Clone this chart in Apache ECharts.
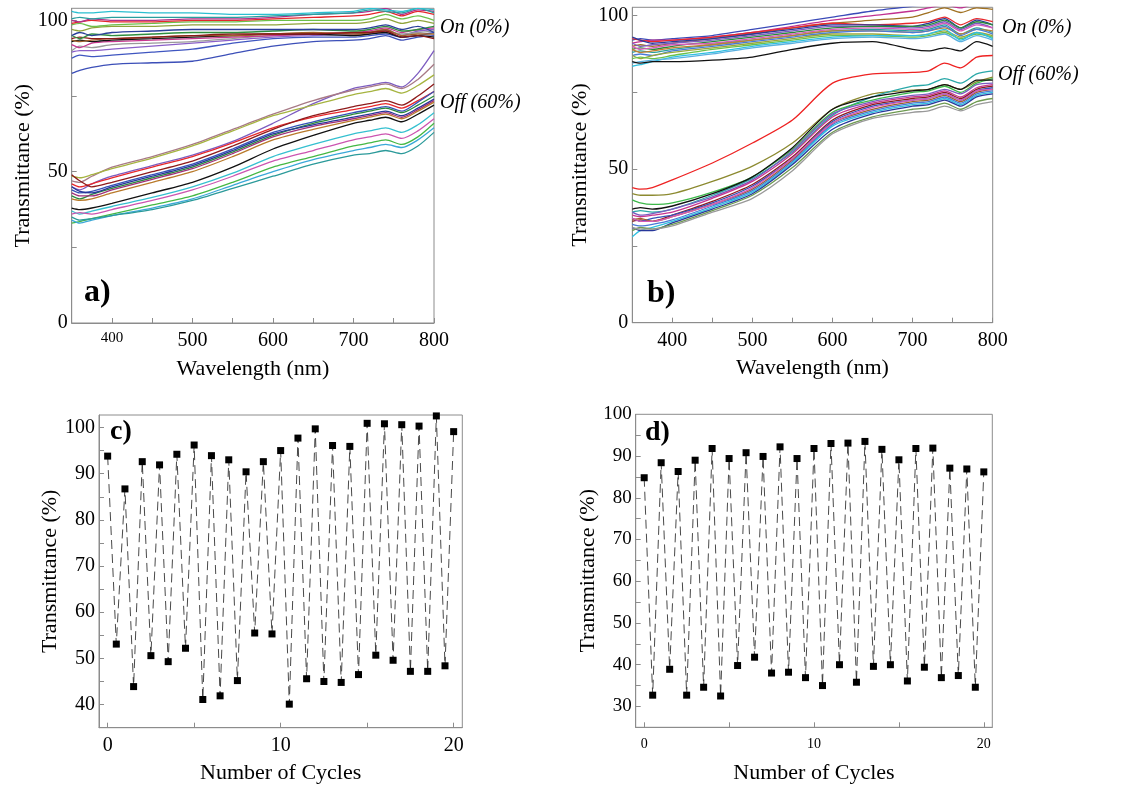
<!DOCTYPE html>
<html><head><meta charset="utf-8">
<script src="https://cdn.jsdelivr.net/npm/echarts@6/dist/echarts.min.js"></script>
<style>html,body{margin:0;padding:0;background:#fff}#c{width:1130px;height:787px}</style>
</head><body><div id="c"></div>
<script>
// ---------- data ----------
const WAVELENGTH = [350,360,375,400,450,500,550,600,650,700,720,740,760,780,800];

// panel a, "on" state spectra
const A_ON = [
 [82.5,83.5,84.5,85.5,86,86.5,89,91.5,93,93.5,94,95,93.5,94.5,95],
 [87.5,88.5,88,88.5,89.5,90.5,92.5,94,94.5,94.5,95,95.5,94.5,95,96],
 [89.5,90,90,90.5,91.5,92.5,93.5,94.5,95,95.5,96,97,95,96.5,97],
 [90,91.5,91,92,92.5,93,94,95,95.5,95,95.5,96.5,95.5,96,96.5],
 [92,91,92.5,93,93.5,94,94.5,95,95.5,96,96.5,97.5,96,97,97.5],
 [93,93.5,93,93.5,94,94.5,95,95.5,95.5,95,95.5,96,94.5,95,94.5],
 [93.5,93,93.5,94,94.5,95,95,95.5,96,95.5,96,97,95,95.5,95.5],
 [94,94.5,94,94,94.5,95,95.5,95.5,95.5,96,96,96.5,94.5,95,94],
 [95,94,95.5,95,95.5,96,96,96.5,97,96.5,97,98,96.5,97,98],
 [95,96,95,96,96.5,97,97,97,97,97,97.5,98.5,97,98,96],
 [97,96.5,97.5,98,98,98.5,98.5,98.5,99,99,99.5,100.5,99,100,99],
 [98.5,99,98,98.5,99,99.5,99.5,100,100,100,100.5,102,100.5,101.5,100],
 [99,99.5,100,99.5,99.5,100,100,100.5,101,101.5,102,103,101.5,103,102],
 [100,99.5,100.5,100,100,100.5,100.5,101,102,102.5,103,104,102,103.5,103],
 [100.5,101,100.5,101,101,101,101,101.5,102,102.5,103.5,103,102.5,104,102.5],
 [103,102.5,102.5,103,102.5,102.5,102,102,102.5,103,104,103.5,103,104,103.5]
];
// panel a, "off" state spectra
const A_OFF = [
 [45,44,46,48.5,52,55.5,60,66,72.5,77.5,78.5,79.5,78,82.5,90],
 [47,46.5,48.5,51.5,55,59,64,69,73.5,77,78,79,77.5,80.5,85.5],
 [48.5,48,49,51,54.5,58.5,63.5,68.5,72,75.5,76.5,77.5,76,78.5,82],
 [46,45,46,48,51.5,55,59.5,64.5,68,70.5,71.5,72.5,71,73.5,76.5],
 [49,47,45,46.5,50,53.5,58.5,64,68.5,71.5,72.5,73.5,72,75,79],
 [44,43,43.5,45.5,49,52.5,57.5,63,66.5,69.5,70.5,71.5,70,73,76.5],
 [42,41,42.5,44.5,48,51.5,56.5,62,66,69,70,71,69.5,72,75],
 [45,43.5,43,45,48.5,52,57,62.5,65.5,68,69,70,68.5,71,74],
 [43,42,42,44,47.5,51,56,61.5,65,67.5,68.5,69.5,68,70.5,73.5],
 [41,40.5,41,43,46.5,50,55,60.5,64,67,68,69,67.5,70,73],
 [38,37.5,38,39.5,43,46.5,51.5,57.5,62,66,67,68,66.5,69,72],
 [37,36,37,38.5,41.5,45,49.5,55,59,62.5,63.5,64.5,63,65.5,69.5],
 [36,36.5,36,37.5,40.5,44,48.5,53.5,57,60.5,61.5,62.5,61,63.5,67.5],
 [33,33.5,34.5,36,39,42,46.5,51.5,55,58.5,59.5,60.5,59,61.5,66],
 [34,33,34,35.5,38,41,45.5,50,54,57,58,59,58,60.5,64.5],
 [35,34,34.5,35.5,37.5,40.5,44.5,48.5,52.5,55.5,56,57,56,58.5,63]
];
// panel b, "on" state spectra
const B_ON = [
 [92,92.5,92,92.5,93.5,95.5,97.5,99.5,101.5,103,103.5,104,104,104,104],
 [91,91.5,92,92,93,94.5,96.5,98.5,100,101.5,102.5,103.5,102.5,104,103.5],
 [90,90.5,90,91,92.5,94,96,97.5,98.5,99.5,101,102.5,101,102.5,102],
 [92.5,92,91.5,92,93,94.5,96,97.5,97,97.5,98,99.5,97,99,98],
 [93,92,91,91.5,92.5,94,95.5,97,97,96.5,97.5,99,96,98.5,97],
 [91,90,90.5,91,92,93.5,95,96.5,96.5,96,96.5,98,95.5,97.5,96],
 [89,89.5,89,90,91.5,93,94.5,96,96.5,96.5,97,98.5,96,98,97],
 [90,89,89.5,90.5,91,92.5,94,95.5,96,95.5,96,97.5,95,97,96],
 [88,88.5,88,89,90.5,92,93.5,95,95.5,95,95.5,97,94,96,94.5],
 [89,88,88.5,89.5,90.5,92,93.5,95,95,94.5,95,96,94,95.5,95],
 [87,87.5,87,88.5,90,91.5,93,94.5,95,94.5,95,96.5,93.5,95.5,94],
 [87,86,87,88,89.5,91,92.5,94,94,93.5,94,95,93,94.5,93.5],
 [86,86.5,86,87,89,90.5,92,93.5,93.5,93,93.5,94.5,92.5,94,93],
 [83.5,84,85,86.5,88,90,91.5,93,93.5,93.5,94,95.5,92,94.5,92.5],
 [84.5,85,85.5,86,87.5,89.5,91,92.5,93,92.5,93,94,91.5,93.5,92],
 [85,84.5,85,85,85.5,86.5,89,91,91.5,89,88.5,89.5,88.5,91.5,90]
];
// panel b, "off" state spectra
const B_OFF = [
 [44,43.5,44,46.5,52,58.5,66,78,81,81.5,82,84.5,83,86.5,87],
 [42,41.5,41.5,42,46,51,58.5,69.5,74.5,75.7,76,77.5,76,78.5,80],
 [36,36.5,36,37,41.5,47,55.5,67.5,73.5,77,77.5,79.5,78,81,82],
 [40,39,38.5,39,42.5,47.5,56.5,68.5,72.5,75,75.5,77,75,78,79.5],
 [37,37.5,37,38,42,47.5,57,69.5,73.5,75.5,76,77.5,76,79,79],
 [36,35,35.5,37,41,46.5,56,68,72,74,74.5,76,74.5,77.5,78],
 [35,34.5,35,36,40.5,46,55,67,71.5,73.5,74,75.5,73.5,76.5,77.5],
 [33,33.5,33,35,39.5,45,54,66,71,73,73.5,75,73,76,77],
 [34,33,34,35,39,44.5,53.5,65.5,70.5,72.5,73,74.5,72.5,75.5,76.5],
 [33.5,34,33,34.5,38.5,43.5,53,65,69.5,72,72.5,74,72,75,76],
 [32,31.5,32,33.5,38,43,52.5,64.5,69,71.5,72,73.5,71.5,74.5,75.5],
 [34,33,33,34.5,38.5,44,53.5,65,70,72.5,73,74.5,72.5,75.5,76],
 [28,30,31,33,37.5,42.5,52,64,68.5,71,71.5,73,71,74,75],
 [31,30,30,32.5,37,42,51.5,63,68,70.5,71,72.5,70.5,73.5,74.5],
 [30,31,30.5,32,36.5,41.5,50.5,62,67,69.5,70,71.5,69.5,72,73],
 [31,30.5,30.5,31.5,36,40.5,49.5,61.5,66.5,68.5,69,70.5,69,71,72]
];

const CYCLES = [0,0.5,1,1.5,2,2.5,3,3.5,4,4.5,5,5.5,6,6.5,7,7.5,8,8.5,9,9.5,10,10.5,11,11.5,12,12.5,13,13.5,14,14.5,15,15.5,16,16.5,17,17.5,18,18.5,19,19.5,20];
const C_TRANS = [93.8,53.1,86.7,43.9,92.6,50.6,91.9,49.3,94.2,52.2,96.2,41.1,93.9,41.9,93.0,45.2,90.4,55.5,92.6,55.3,95.0,40.1,97.7,45.6,99.7,45.0,96.1,44.8,95.9,46.5,100.9,50.7,100.8,49.6,100.6,47.2,100.3,47.2,102.5,48.4,99.1];
const D_TRANS = [84.8,32.7,88.4,38.9,86.3,32.7,89.0,34.6,91.8,32.5,89.4,39.8,90.8,41.8,89.9,38.0,92.2,38.2,89.4,36.9,91.8,35.0,93.0,40.0,93.1,35.8,93.5,39.6,91.6,40.0,89.1,36.1,91.8,39.4,91.9,36.9,87.1,37.4,86.9,34.6,86.2];

const WL_LABELS = [400,500,600,700,800];
const WL_TICKS = [400,450,500,550,600,650,700,750,800];
const T_LABELS_AB = [0,50,100];
const T_TICKS_AB = [25,50,75,100];
const CYC_LABELS = [0,10,20];
const CYC_TICKS = [0,5,10,15,20];
const C_LABELS = [40,50,60,70,80,90,100];
const C_TICKS = [40,45,50,55,60,65,70,75,80,85,90,95,100];
const D_LABELS = [30,40,50,60,70,80,90,100];
const D_TICKS = [30,35,40,45,50,55,60,65,70,75,80,85,90,95];

const COL_A_ON = ['#3c4fb8','#3f56c0','#8a5fc8','#9a9a9a','#c8358f','#111111','#a0612a','#8b1a1a','#2f8f3f','#2a3f9a','#8fa33a','#6cc04a','#e5262b','#b0308a','#2a9e9e','#2bbfd0'];
const COL_A_OFF = ['#7d5cc0','#a87a86','#a6b440','#e8282c','#8e1b1b','#3552b8','#2a8a3a','#27379a','#a0307a','#b97a2a','#111111','#35c0d0','#cc55b0','#45b845','#3aa8d8','#2b9a9a'];
const COL_B_ON = ['#3a4ab8','#c03090','#a07020','#e8282c','#2a3a9a','#7a5cc0','#2a8a3a','#d65ab8','#2a9e9e','#c08030','#4a7ad6','#9aa83a','#6cc04a','#30c0e0','#5ab0e0','#111111'];
const COL_B_OFF = ['#ee2222','#8c8a30','#2aa8a8','#3cb84a','#111111','#7a5cc0','#c8358f','#8e1b1b','#3552b8','#a0612a','#4a7ad6','#d65ab8','#30c0e0','#27379a','#6e9a50','#999999'];

// ---------- chart ----------
const FONT = '"Liberation Serif","Times New Roman",serif';
const FRAME = '#8c8c8c';

function xAx(gi, min, max, labels, ticks, name, fs, margin, fmt, rich) {
  return {
    gridIndex: gi, type: 'value', min: min, max: max,
    axisLine: {show: true, onZero: false, lineStyle: {color: FRAME, width: 1}},
    axisTick: {show: true, inside: true, length: 5, customValues: ticks, lineStyle: {color: FRAME}},
    axisLabel: {customValues: labels, color: '#000', fontFamily: FONT, fontSize: fs, margin: margin, formatter: fmt, rich: rich},
    splitLine: {show: false},
    name: name, nameLocation: 'middle', nameGap: 35,
    nameTextStyle: {fontFamily: FONT, fontSize: 22, color: '#000'}
  };
}
function yAx(gi, min, max, labels, ticks, name, fs, gap) {
  return {
    gridIndex: gi, type: 'value', min: min, max: max,
    axisLine: {show: true, onZero: false, lineStyle: {color: FRAME, width: 1}},
    axisTick: {show: true, inside: true, length: 5, customValues: ticks, lineStyle: {color: FRAME}},
    axisLabel: {customValues: labels, color: '#000', fontFamily: FONT, fontSize: fs, margin: 4},
    splitLine: {show: false},
    name: name, nameLocation: 'middle', nameGap: gap,
    nameTextStyle: {fontFamily: FONT, fontSize: 22, color: '#000'}
  };
}

const series = [];
function addSpectra(arrs, cols, axis) {
  arrs.forEach((a, i) => {
    series.push({
      type: 'line', xAxisIndex: axis, yAxisIndex: axis,
      data: WAVELENGTH.map((w, k) => [w, a[k]]),
      showSymbol: false, symbol: 'none', smooth: 0.25, clip: true,
      lineStyle: {color: cols[i % cols.length], width: 1.3},
      silent: true, z: 2
    });
  });
}
addSpectra(A_ON, COL_A_ON, 0);
addSpectra(A_OFF, COL_A_OFF, 0);
addSpectra(B_ON, COL_B_ON, 1);
addSpectra(B_OFF, COL_B_OFF, 1);

function addCycles(vals, axis) {
  series.push({
    type: 'line', xAxisIndex: axis, yAxisIndex: axis,
    data: CYCLES.map((c, k) => [c, vals[k]]),
    symbol: 'rect', symbolSize: 7, showSymbol: true, clip: false,
    itemStyle: {color: '#000'},
    lineStyle: {color: '#1a1a1a', width: 0.8, type: [9, 5]},
    z: 3
  });
}
addCycles(C_TRANS, 2);
addCycles(D_TRANS, 3);

const gridBase = {show: true, borderColor: FRAME, borderWidth: 1, backgroundColor: 'transparent'};

const option = {
  animation: false,
  backgroundColor: '#fff',
  grid: [
    Object.assign({left: 71.7, top: 8.3, width: 362.3, height: 314.7}, gridBase),
    Object.assign({left: 632.3, top: 7.3, width: 360.4, height: 315.4}, gridBase),
    Object.assign({left: 99, top: 415, width: 363.3, height: 312.7}, gridBase),
    Object.assign({left: 635.7, top: 414.3, width: 356.6, height: 313}, gridBase)
  ],
  xAxis: [
    xAx(0, 350, 800, WL_LABELS, WL_TICKS, 'Wavelength (nm)', 20, 8,
        v => v === 400 ? '{s|400}' : '{n|' + v + '}',
        {s: {fontSize: 15, fontFamily: FONT, color: '#000'}, n: {fontSize: 20, fontFamily: FONT, color: '#000'}}),
    xAx(1, 350, 800, WL_LABELS, WL_TICKS, 'Wavelength (nm)', 20, 8),
    xAx(2, -0.5, 20.5, CYC_LABELS, CYC_TICKS, 'Number of Cycles', 20, 8),
    xAx(3, -0.5, 20.5, CYC_LABELS, CYC_TICKS, 'Number of Cycles', 14, 10)
  ],
  yAxis: [
    yAx(0, 0, 104, T_LABELS_AB, T_TICKS_AB, 'Transmittance (%)', 20, 37),
    yAx(1, 0, 102.7, T_LABELS_AB, T_TICKS_AB, 'Transmittance (%)', 20, 41),
    yAx(2, 35, 102.7, C_LABELS, C_TICKS, 'Transmittance (%)', 20, 38),
    yAx(3, 25, 100, D_LABELS, D_TICKS, 'Transmittance (%)', 19, 36)
  ],
  series: series,
  graphic: [
    {type: 'text', z: 10, style: {x: 84, y: 293, text: 'a)', font: 'bold 32px ' + FONT, fill: '#000', verticalAlign: 'middle'}},
    {type: 'text', z: 10, style: {x: 647, y: 294, text: 'b)', font: 'bold 32px ' + FONT, fill: '#000', verticalAlign: 'middle'}},
    {type: 'text', z: 10, style: {x: 110, y: 432, text: 'c)', font: 'bold 28px ' + FONT, fill: '#000', verticalAlign: 'middle'}},
    {type: 'text', z: 10, style: {x: 645, y: 433, text: 'd)', font: 'bold 28px ' + FONT, fill: '#000', verticalAlign: 'middle'}},
    {type: 'text', z: 10, style: {x: 440, y: 28, text: 'On (0%)', font: 'italic 20px ' + FONT, fill: '#000', verticalAlign: 'middle'}},
    {type: 'text', z: 10, style: {x: 440, y: 103, text: 'Off (60%)', font: 'italic 20px ' + FONT, fill: '#000', verticalAlign: 'middle'}},
    {type: 'text', z: 10, style: {x: 1002, y: 28, text: 'On (0%)', font: 'italic 20px ' + FONT, fill: '#000', verticalAlign: 'middle'}},
    {type: 'text', z: 10, style: {x: 998, y: 75, text: 'Off (60%)', font: 'italic 20px ' + FONT, fill: '#000', verticalAlign: 'middle'}}
  ]
};

const chart = echarts.init(document.getElementById('c'), null, {renderer: 'canvas'});
chart.setOption(option);
</script></body></html>
